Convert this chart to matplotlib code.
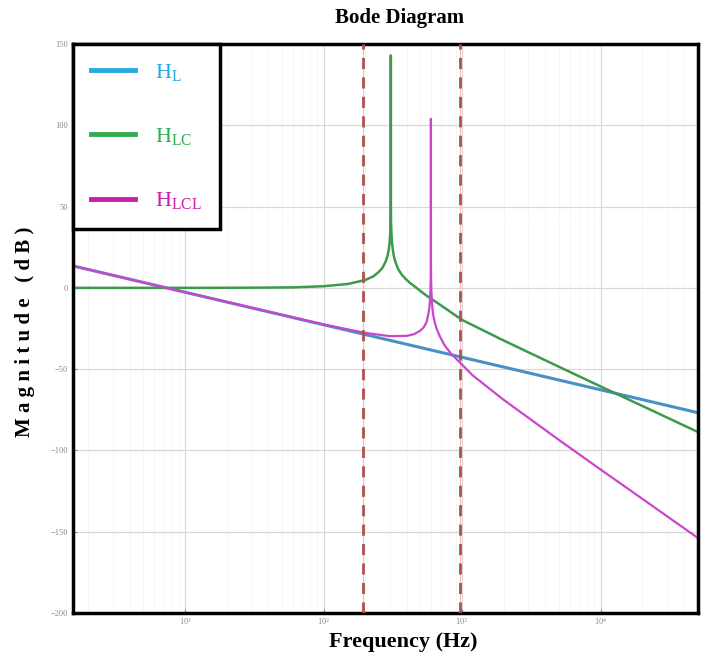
import numpy as np
import matplotlib
matplotlib.use('Agg')
import matplotlib.pyplot as plt
from matplotlib.ticker import LogLocator, FixedLocator

# values (frequency in Hz, magnitude in dB)
freq_L = [1.55, 10, 100, 1000, 10000, 50600]
mag_L = [13.5, -2.7, -22.7, -42.7, -62.7, -76.8]

freq_LC = [1.55, 10, 30, 60, 100, 150, 200, 230, 250, 265, 280, 290, 296, 300, 303, 305, 305.7, 306,
           306.3, 307, 309, 312, 316, 322, 330, 345, 365, 390, 420, 470, 550, 700, 1000,
           2000, 5000, 10000, 20000, 50600]
mag_LC = [0.0, 0.0, 0.1, 0.3, 1.0, 2.4, 4.8, 7.2, 9.7, 12.1, 15.9, 19.8, 23.9, 28.2, 33.5, 42.2, 52.5, 143,
          52.5, 40.8, 33.8, 28.0, 23.7, 19.4, 16.0, 11.7, 8.4, 5.6, 3.1, -0.1, -4.6, -10.6, -19.7,
          -32.4, -48.5, -60.6, -72.6, -88.7]

freq_LCL = [1.55, 10, 100, 200, 300, 400, 450, 500, 530, 555, 570, 580, 587, 591, 594, 595.6, 596,
            596.4, 598, 601, 606, 613, 622, 635, 655, 690, 750, 830, 950, 1200, 2000, 5000,
            10000, 20000, 50600]
mag_LCL = [13.5, -2.7, -22.5, -27.7, -29.7, -29.5, -28.5, -26.3, -24.2, -20.9, -16.4, -12.6, -7.3, -2.1, 5.3, 18.9, 104,
           18.9, 5.3, -2.5, -8.6, -13.6, -17.6, -21.2, -25.1, -29.7, -35.5, -40.3, -45.3, -54.0, -68.9, -93.5,
           -111.7, -129.7, -153.9]

band_edges = [192, 970]

labels = ['H$_{\\mathrm{L}}$', 'H$_{\\mathrm{LC}}$', 'H$_{\\mathrm{LCL}}$']
line_colors = ['#4a90c4', '#3c9a4c', '#cc44cc']
text_colors = ['#2aa8e0', '#2fae55', '#c61fa8']

plt.rcParams['font.family'] = 'Liberation Serif'
plt.rcParams['mathtext.fontset'] = 'custom'
plt.rcParams['mathtext.rm'] = 'Liberation Serif'
plt.rcParams['mathtext.it'] = 'Liberation Serif'

fig = plt.figure(figsize=(7.1, 6.59), dpi=100)
ax = fig.add_axes([73/710, 1 - 613/659, 625/710, 569/659])

ax.plot(freq_L, mag_L, color=line_colors[0], lw=2.2, label=labels[0])
ax.plot(freq_LC, mag_LC, color=line_colors[1], lw=1.8, label=labels[1])
ax.plot(freq_LCL, mag_LCL, color=line_colors[2], lw=1.6, label=labels[2])

for f in band_edges:
    ax.axvline(f, color='#f4b8b8', lw=0.8, zorder=1)
    ax.axvline(f, color='#b0504c', lw=2.0, ls=(0, (4, 3)), zorder=4)

ax.set_xscale('log')
ax.set_xlim(1.55, 50600)
ax.set_ylim(-200, 150)
ax.yaxis.set_major_locator(FixedLocator([-200, -150, -100, -50, 0, 50, 100, 150]))
ax.xaxis.set_major_locator(LogLocator(base=10, numticks=10))
ax.xaxis.set_minor_locator(LogLocator(base=10, subs=np.arange(2, 10), numticks=20))
ax.grid(True, which='major', color='#d8d8d8', lw=0.9)
ax.grid(True, which='minor', axis='x', color='#e4e4e4', lw=0.6, ls=':')
ax.tick_params(axis='both', which='both', direction='in', labelsize=6, labelcolor='#888888',
               color='#888888', length=3)
ax.tick_params(axis='x', which='major', pad=2)
ax.tick_params(axis='x', which='minor', length=0)
for s in ax.spines.values():
    s.set_linewidth(2.5)

leg = ax.legend(loc='upper left', borderaxespad=0, fontsize=16, frameon=True, fancybox=False,
                edgecolor='black', handlelength=2.0, handletextpad=0.9, labelspacing=1.95,
                borderpad=0.8)
leg.get_frame().set_linewidth(2.5)
leg.get_frame().set_alpha(1)
for line, txt, c in zip(leg.get_lines(), leg.get_texts(), text_colors):
    line.set_linewidth(3.5)
    line.set_color(c)
    txt.set_color(c)

fig.text(400/710, 1 - 18/659, 'Bode Diagram', ha='center', va='center', fontsize=15,
         fontweight='bold')
fig.text(403/710, 1 - 642/659, 'Frequency (Hz)', ha='center', va='center', fontsize=16,
         fontweight='bold')
fig.text(25/710, 1 - 332/659, 'M a g n i t u d e   ( d B )', ha='center', va='center',
         fontsize=15, fontweight='bold', rotation=90)

fig.savefig('out.png', dpi=100)
